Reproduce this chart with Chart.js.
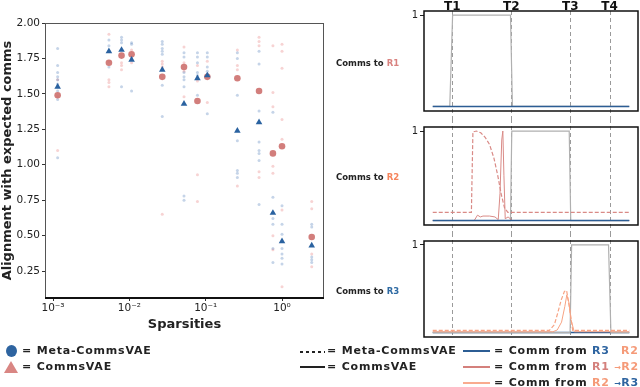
<!DOCTYPE html>
<html>
<head>
<meta charset="utf-8">
<script src="https://cdn.jsdelivr.net/npm/chart.js@4.4.0/dist/chart.umd.min.js"></script>
<style>
  body { margin: 0; background: #fff; }
  #wrap { position: relative; width: 640px; height: 387px; overflow: hidden; font-family: 'DejaVu Sans', sans-serif; }
  canvas { position: absolute; }
  .txt { position: absolute; font-weight: bold; white-space: nowrap; color: #222; }
  .lab { font-size: 8.5px; line-height: 11px; }
  .leg { font-size: 11px; line-height: 14px; letter-spacing: 0.8px; }
  .sw { position: absolute; height: 2px; }
  .arr { font-size: 8px; letter-spacing: 0; }
</style>
</head>
<body>
<div id="wrap">
  <canvas id="main" width="330" height="340" style="left:0;top:0"></canvas>
  <canvas id="p1" width="310" height="119" style="left:330px;top:0"></canvas>
  <canvas id="p2" width="310" height="114" style="left:330px;top:119px"></canvas>
  <canvas id="p3" width="310" height="112" style="left:330px;top:233px"></canvas>

  <div class="txt lab" style="left:336px;top:58px">Comms to <span style="color:#d9827f">R1</span></div>
  <div class="txt lab" style="left:336px;top:172px">Comms to <span style="color:#f5845c">R2</span></div>
  <div class="txt lab" style="left:336px;top:286px">Comms to <span style="color:#2e6aa3">R3</span></div>

  <div style="position:absolute;left:6px;top:345px;width:11px;height:12px;border-radius:50%;background:#2e64a0"></div>
  <div style="position:absolute;left:4px;top:361px;width:0;height:0;border-left:7px solid transparent;border-right:7px solid transparent;border-bottom:12px solid #d98683"></div>
  <div class="txt leg" style="left:22px;top:344px">= Meta-CommsVAE</div>
  <div class="txt leg" style="left:22px;top:360px">= CommsVAE</div>

  <div class="sw" style="left:300px;top:351px;width:25px;height:1.5px;background:repeating-linear-gradient(90deg,#222 0 3px,transparent 3px 6px)"></div>
  <div class="txt leg" style="left:327px;top:344px">= Meta-CommsVAE</div>
  <div class="sw" style="left:300px;top:366px;width:25px;height:1.5px;background:#222"></div>
  <div class="txt leg" style="left:327px;top:360px">= CommsVAE</div>

  <div class="sw" style="left:463px;top:350px;width:27px;background:#2c5d94"></div>
  <div class="txt leg" style="left:494px;top:344px">= Comm from <span style="color:#2e64a0">R3</span></div>
  <div class="txt leg" style="left:621px;top:344px;color:#f59a78">R2</div>
  <div class="sw" style="left:463px;top:366px;width:27px;background:#d4807c"></div>
  <div class="txt leg" style="left:494px;top:360px">= Comm from <span style="color:#d4807c">R1</span> <span class="arr" style="color:#f59a78">&#8594;</span><span style="color:#f59a78">R2</span></div>
  <div class="sw" style="left:463px;top:382px;width:27px;background:#f9ab8f"></div>
  <div class="txt leg" style="left:494px;top:376px">= Comm from <span style="color:#f59a78">R2</span> <span class="arr" style="color:#2e64a0">&#8594;</span><span style="color:#2e64a0">R3</span></div>
</div>

<script>
// sparsity levels, one per group of runs
const sparsities = [0.00115, 0.0054, 0.0079, 0.0107, 0.027, 0.052, 0.078, 0.105, 0.26, 0.5, 0.76, 1.0, 2.45];
// mean alignment (blue triangles / red circles)
const metaMean  = [1.55, 1.80, 1.81, 1.74, 1.67, 1.43, 1.61, 1.63, 1.24, 1.30, 0.66, 0.46, 0.43];
const commsMean = [1.49, 1.72, 1.77, 1.78, 1.62, 1.69, 1.45, 1.62, 1.61, 1.52, 1.08, 1.13, 0.49];
// single runs (faint dots)
const metaRuns = [
  [1.82, 1.70, 1.65, 1.62, 1.60, 1.57, 1.52, 1.46, 1.05],
  [1.88, 1.84, 1.80, 1.69],
  [1.90, 1.88, 1.86, 1.55],
  [1.86, 1.85, 1.76, 1.52],
  [1.87, 1.85, 1.82, 1.80, 1.78, 1.56, 1.34],
  [1.79, 1.76, 1.65, 1.62, 1.60, 1.55, 0.78, 0.75],
  [1.79, 1.76, 1.72, 1.65, 1.63, 1.49],
  [1.79, 1.76, 1.69, 1.66, 1.64, 1.36],
  [1.79, 1.75, 1.49, 1.17, 0.96, 0.94, 0.91],
  [1.80, 1.71, 1.38, 1.16, 1.10, 1.08, 1.03, 0.72],
  [1.37, 0.77, 0.62, 0.58, 0.41, 0.31],
  [0.71, 0.58, 0.51, 0.41, 0.37, 0.34, 0.30],
  [0.58, 0.56, 0.35, 0.33, 0.31]
];
const commsRuns = [
  [1.60, 1.55, 1.48, 1.10],
  [1.92, 1.73, 1.60, 1.58, 1.55],
  [1.72, 1.70, 1.67],
  [1.81, 1.72],
  [1.73, 1.71, 1.69, 0.65],
  [1.83, 1.72, 1.66, 1.48],
  [1.70, 1.59, 0.93, 0.74],
  [1.73, 1.44],
  [1.81, 1.70, 1.67, 0.85],
  [1.90, 1.87, 1.84, 0.95, 0.91],
  [1.84, 1.51, 1.41, 0.99, 0.94, 0.50, 0.40],
  [1.85, 1.80, 1.68, 1.32, 1.18, 0.68, 0.14],
  [0.74, 0.69, 0.37, 0.28]
];
const xTickValues = [0.001, 0.01, 0.1, 1];
const xTickLabels = ['10\u207B\u00B3', '10\u207B\u00B2', '10\u207B\u00B9', '10\u2070'];
const yTickValues = [0.25, 0.5, 0.75, 1.0, 1.25, 1.5, 1.75, 2.0];

// right panels: time steps and event markers
const eventTimes  = [9, 36, 63, 81];
const eventLabels = ['T1', 'T2', 'T3', 'T4'];
const flatT = [0, 90];
const flatV = [0, 0];
// comms to R1
const r1TargetT = [0, 7.8, 9.1, 35.6, 36.5, 90];
const r1TargetV = [0, 0, 1, 1, 0, 0];
// comms to R2
const r2TargetT = [0, 35.6, 36.2, 62.5, 63.2, 90];
const r2TargetV = [0, 0, 1, 1, 0, 0];
const r2MetaT = [0, 17.7, 18.4, 20, 22, 24, 26, 28, 29.8, 31.4, 32.9, 34.4, 90];
const r2MetaV = [0.09, 0.09, 0.99, 1.0, 0.98, 0.93, 0.85, 0.70, 0.50, 0.29, 0.14, 0.09, 0.09];
const r2CommsT = [0, 19, 20.5, 21.8, 23, 26, 28.5, 30, 30.8, 31.6, 32.1, 32.6, 33.2, 34.5, 36.5, 90];
const r2CommsV = [0, 0, 0.06, 0.04, 0.05, 0.05, 0.04, 0.01, 0.3, 0.9, 1.0, 0.5, 0.02, 0.04, 0, 0];
// comms to R3
const r3TargetT = [0, 62.9, 63.6, 80.5, 81.6, 90];
const r3TargetV = [0, 0, 1, 1, 0, 0];
const r3MetaT = [0, 53.4, 55.7, 57.2, 58.8, 60.3, 61.3, 62.6, 64.1, 90];
const r3MetaV = [0.025, 0.025, 0.09, 0.22, 0.37, 0.47, 0.48, 0.29, 0.025, 0.025];
const r3CommsT = [0, 55, 57, 59, 60.5, 61.4, 62.3, 63.3, 64.8, 90];
const r3CommsV = [0.01, 0.01, 0.03, 0.12, 0.3, 0.43, 0.35, 0.15, 0.01, 0.01];

const toPoints = (xs, ys) => xs.map((x, i) => ({ x: x, y: ys[i] }));
const runPoints = runs => runs.flatMap((vals, i) => vals.map(v => ({ x: sparsities[i], y: v })));
const tickFont = { family: 'DejaVu Sans', size: 10.5 };

// box around the scatter plot, thicker bottom axis
const frame = {
  id: 'frame',
  afterDraw(chart) {
    const { ctx, chartArea: a } = chart;
    ctx.save();
    ctx.strokeStyle = '#555';
    ctx.lineWidth = 1;
    ctx.strokeRect(a.left + 0.5, a.top + 0.5, a.right - a.left - 1, a.bottom - a.top);
    ctx.strokeStyle = '#111';
    ctx.lineWidth = 2;
    ctx.beginPath();
    ctx.moveTo(a.left, a.bottom);
    ctx.lineTo(a.right, a.bottom);
    ctx.stroke();
    ctx.restore();
  }
};

// note: lower "order" is drawn on top
new Chart(document.getElementById('main'), {
  type: 'scatter',
  data: {
    datasets: [
      { order: 3, data: runPoints(commsRuns), backgroundColor: 'rgba(232,128,128,0.35)', borderWidth: 0, pointRadius: 1.5 },
      { order: 2, data: runPoints(metaRuns), backgroundColor: 'rgba(80,125,185,0.33)', borderWidth: 0, pointRadius: 1.5 },
      { order: 1, data: toPoints(sparsities, commsMean), backgroundColor: 'rgba(205,112,110,0.9)', borderWidth: 0, pointRadius: 3.3 },
      { order: 0, data: toPoints(sparsities, metaMean), pointStyle: 'triangle', backgroundColor: '#2a62a0', borderWidth: 0, pointRadius: 3.8 }
    ]
  },
  options: {
    responsive: false,
    animation: false,
    devicePixelRatio: 1,
    layout: { padding: { top: 23, right: 6, left: 0, bottom: 0 } },
    plugins: { legend: { display: false }, tooltip: { enabled: false } },
    scales: {
      x: {
        type: 'logarithmic',
        min: Math.pow(10, -3.105),
        max: Math.pow(10, 0.55),
        afterBuildTicks: s => { s.ticks = xTickValues.map(v => ({ value: v })); },
        afterFit: s => { s.height = 42; },
        ticks: { callback: (v, i) => xTickLabels[i], autoSkip: false, maxRotation: 0, padding: 1, color: '#222', font: tickFont },
        grid: { drawOnChartArea: false, tickLength: 3, color: '#333' },
        border: { display: false },
        title: { display: true, text: 'Sparsities', color: '#222', font: { family: 'DejaVu Sans', size: 13, weight: 'bold' }, padding: { top: 0, bottom: 8 } }
      },
      y: {
        min: 0.06,
        max: 2.0,
        afterBuildTicks: s => { s.ticks = yTickValues.map(v => ({ value: v })); },
        afterFit: s => { s.width = 45; },
        ticks: { callback: v => v.toFixed(2), color: '#222', padding: 2, font: tickFont },
        grid: { drawOnChartArea: false, tickLength: 3, color: '#333' },
        border: { display: false },
        title: { display: true, text: 'Alignment with expected comms', color: '#222', font: { family: 'DejaVu Sans', size: 13, weight: 'bold' }, padding: { top: 0, bottom: 0 } }
      }
    }
  },
  plugins: [frame]
});

// dashed event lines, panel box and T labels
function eventLines(opts) {
  return {
    id: 'events',
    beforeDatasetsDraw(chart) {
      const { ctx, chartArea: a, scales: { x } } = chart;
      const y0 = opts.first ? a.top : 0;
      const y1 = opts.last ? a.bottom : chart.height;
      ctx.save();
      ctx.setLineDash([4, 3]);
      ctx.lineWidth = 1;
      ctx.strokeStyle = '#9a9a9a';
      eventTimes.forEach(t => {
        const px = Math.round(x.getPixelForValue(t)) + 0.5;
        ctx.beginPath();
        ctx.moveTo(px, y0);
        ctx.lineTo(px, y1);
        ctx.stroke();
      });
      ctx.restore();
    },
    afterDraw(chart) {
      const { ctx, chartArea: a, scales: { x } } = chart;
      ctx.save();
      ctx.strokeStyle = '#111';
      ctx.lineWidth = 1.5;
      ctx.strokeRect(a.left, a.top, a.right - a.left, a.bottom - a.top);
      if (opts.first) {
        ctx.fillStyle = '#111';
        ctx.font = 'bold 12px "DejaVu Sans"';
        ctx.textAlign = 'center';
        ctx.textBaseline = 'alphabetic';
        eventTimes.forEach((t, i) => ctx.fillText(eventLabels[i], x.getPixelForValue(t), a.top - 1.5));
      }
      ctx.restore();
    }
  };
}

function line(t, v, color, width, dash, order) {
  return { order: order, data: toPoints(t, v), borderColor: color, borderWidth: width, borderDash: dash || [], fill: false, tension: 0, pointRadius: 0 };
}

function panel(id, padTop, series, opts) {
  new Chart(document.getElementById(id), {
    type: 'line',
    data: { datasets: series },
    options: {
      responsive: false,
      animation: false,
      devicePixelRatio: 1,
      layout: { padding: { top: padTop, bottom: 4, right: 2, left: 0 } },
      plugins: { legend: { display: false }, tooltip: { enabled: false } },
      scales: {
        x: { type: 'linear', min: -4, max: 94, display: false },
        y: {
          min: -0.05,
          max: 1.045,
          afterBuildTicks: s => { s.ticks = [{ value: 1 }]; },
          afterFit: s => { s.width = 94; },
          ticks: { color: '#222', padding: 2, font: { family: 'DejaVu Sans', size: 10 } },
          grid: { drawOnChartArea: false, tickLength: 4, color: '#222' },
          border: { display: false }
        }
      }
    },
    plugins: [eventLines(opts)]
  });
}

const gray = '#b0b0b0', blue = '#2c5d94', red = '#d98a86', orange = '#f7a383';

panel('p1', 11, [
  line(r1TargetT, r1TargetV, gray, 1.2, null, 3),
  line(flatT, flatV, blue, 1.5, null, 0)
], { first: true });

panel('p2', 5, [
  line(r2TargetT, r2TargetV, gray, 1.2, null, 3),
  line(r2MetaT, r2MetaV, red, 1.2, [4, 2], 2),
  line(r2CommsT, r2CommsV, red, 1, null, 1),
  line(flatT, flatV, blue, 1.5, null, 0)
], {});

panel('p3', 4, [
  line(r3TargetT, r3TargetV, gray, 1.2, null, 3),
  line(r3MetaT, r3MetaV, orange, 1.2, [4, 2], 1),
  line(r3CommsT, r3CommsV, orange, 1, null, 2),
  line(flatT, flatV, blue, 1.5, null, 4)
], { last: true });
</script>
</body>
</html>
